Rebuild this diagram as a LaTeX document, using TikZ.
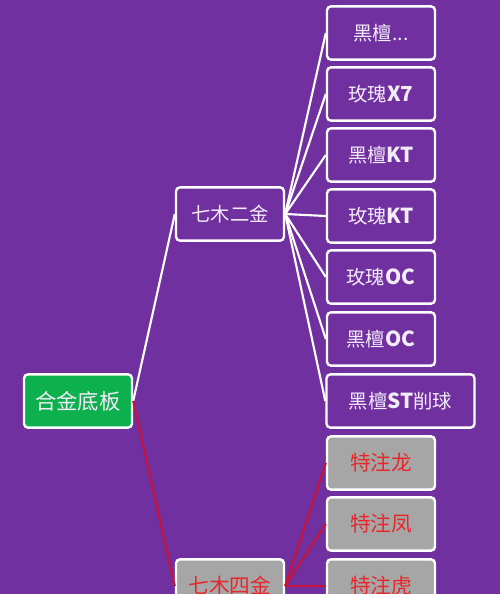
\documentclass[tikz,border=0pt]{standalone}
\usepackage{fontspec}
\setmainfont{Carlito}
\newfontfamily\cjk{Noto Sans CJK SC}
\usepackage{xcolor}
\usetikzlibrary{shapes, arrows.meta, positioning}

\definecolor{bgpurple}{HTML}{7030A0}
\definecolor{rootgreen}{HTML}{0CB04C}
\definecolor{leafgray}{HTML}{A6A6A6}
\definecolor{textred}{HTML}{E8262A}
\definecolor{linered}{HTML}{C8123C}
\definecolor{textwhite}{HTML}{F4ECFA}

\newcommand{\lat}[1]{{\fontsize{15.5}{18}\selectfont\bfseries #1}}

\tikzset{
    box/.style={draw=white, line width=1.8pt, rounded corners=3pt,
        minimum width=81pt, minimum height=40pt, inner sep=2pt,
        font=\cjk\fontsize{14.5}{17}\selectfont},
    purplebox/.style={box, fill=bgpurple, text=textwhite},
    graybox/.style={box, fill=leafgray, text=textred,
        font=\cjk\fontsize{15.5}{18}\selectfont},
    whiteline/.style={draw=white, line width=1.6pt},
    redline/.style={draw=linered, line width=1.6pt}
}

\begin{document}
\begin{tikzpicture}[x=0.75pt, y=-0.75pt]

\fill[bgpurple] (0,0) rectangle (500,594);
\useasboundingbox (0,0) rectangle (500,594);

\node[box, fill=rootgreen, text=textwhite,
    font=\cjk\fontsize{16}{19}\selectfont] at (78,401) (block1) {合金底板};

\node[purplebox] at (230,214) (block2) {七木二金};
\node[graybox] at (230,586) (block3) {七木四金};

\node[purplebox] at (381,33) (leaf1) {黑檀...};
\node[purplebox] at (381,94) (leaf2) {玫瑰\lat{X7}};
\node[purplebox] at (381,155) (leaf3) {黑檀\lat{KT}};
\node[purplebox] at (381,216) (leaf4) {玫瑰\lat{KT}};
\node[purplebox] at (381,277) (leaf5) {玫瑰\lat{OC}};
\node[purplebox] at (381,339) (leaf6) {黑檀\lat{OC}};
\node[purplebox, minimum width=111pt] at (400.5,401) (leaf7) {黑檀\lat{ST}削球};

\node[graybox] at (381,463) (leaf8) {特注龙};
\node[graybox] at (381,524) (leaf9) {特注凤};
\node[graybox] at (381,586) (leaf10) {特注虎};

\draw[whiteline] (block1.east) -- (block2.west);
\draw[redline] (block1.east) -- (block3.west);

\foreach \i in {1,...,7}
    \draw[whiteline] (block2.east) -- (leaf\i.west);

\foreach \i in {8,9,10}
    \draw[redline] (block3.east) -- (leaf\i.west);

\end{tikzpicture}
\end{document}
